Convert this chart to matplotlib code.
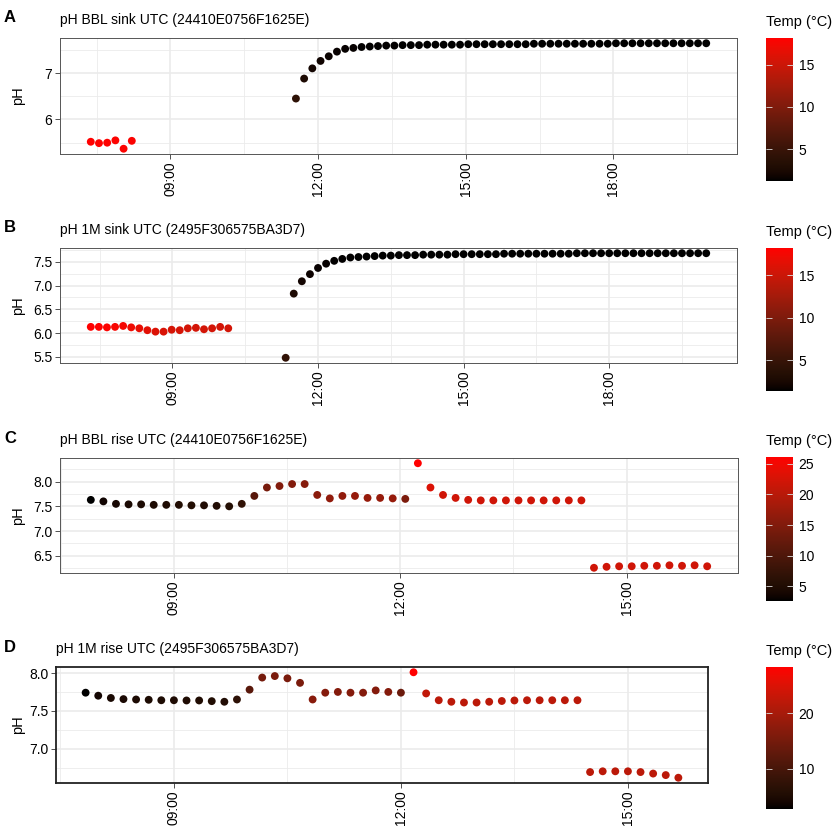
import numpy as np
import pandas as pd
import matplotlib
matplotlib.use("Agg")
import matplotlib.pyplot as plt
from matplotlib.colors import ListedColormap
from matplotlib.ticker import FixedLocator, FuncFormatter

plt.rcParams['font.family'] = ['Liberation Sans', 'DejaVu Sans']

#### data (10 minute logging interval)
# A: BBL sink
a1_start, a1_ph = "07:23", [5.52, 5.49, 5.50, 5.55, 5.37, 5.54]
a1_temp = [18.2, 18.1, 18.1, 18.0, 18.0, 17.9]
a2_start = "11:33"
a2_ph = [6.45, 6.88, 7.10, 7.26, 7.36, 7.46, 7.52, 7.54, 7.56, 7.57,
         7.58, 7.59, 7.59, 7.60, 7.60, 7.60, 7.61, 7.61, 7.61, 7.61,
         7.61, 7.62, 7.62, 7.62, 7.62, 7.62, 7.62, 7.62, 7.62, 7.63,
         7.63, 7.63, 7.63, 7.63, 7.63, 7.63, 7.63, 7.63, 7.63, 7.64,
         7.64, 7.64, 7.64, 7.64, 7.64, 7.64, 7.64, 7.64, 7.64, 7.64, 7.64]
a2_temp = [4.0, 2.6, 2.0, 1.8, 1.6, 1.5, 1.4, 1.4, 1.3, 1.3,
           1.3, 1.3, 1.3, 1.2, 1.2, 1.2, 1.2, 1.2, 1.2, 1.2,
           1.2, 1.2, 1.2, 1.2, 1.2, 1.2, 1.2, 1.2, 1.2, 1.2,
           1.2, 1.2, 1.2, 1.2, 1.2, 1.2, 1.2, 1.2, 1.2, 1.2,
           1.2, 1.2, 1.2, 1.2, 1.2, 1.2, 1.2, 1.2, 1.2, 1.2, 1.2]

# B: 1M sink
b1_start = "07:19"
b1_ph = [6.13, 6.13, 6.12, 6.13, 6.15, 6.12, 6.10, 6.06, 6.03, 6.03,
         6.07, 6.06, 6.10, 6.11, 6.08, 6.10, 6.13, 6.10]
b1_temp = [18.2, 18.1, 18.0, 17.8, 17.6, 17.2, 16.8, 16.4, 16.0, 15.8,
           15.6, 15.6, 15.5, 15.5, 15.5, 15.5, 15.5, 15.5]
b2_start = "11:20"
b2_ph = [5.48, 6.83, 7.09, 7.24, 7.37, 7.46, 7.52, 7.56, 7.59, 7.60,
         7.61, 7.62, 7.63, 7.63, 7.64, 7.64, 7.64, 7.65, 7.65, 7.65,
         7.65, 7.66, 7.66, 7.66, 7.66, 7.66, 7.66, 7.67, 7.67, 7.67,
         7.67, 7.67, 7.67, 7.67, 7.67, 7.67, 7.68, 7.68, 7.68, 7.68,
         7.68, 7.68, 7.68, 7.68, 7.68, 7.68, 7.68, 7.68, 7.68, 7.68,
         7.68, 7.68, 7.68]
b2_temp = [4.5, 2.8, 2.2, 1.9, 1.7, 1.6, 1.5, 1.5, 1.5, 1.4,
           1.4, 1.4, 1.4, 1.4, 1.4, 1.4, 1.4, 1.4, 1.4, 1.4,
           1.4, 1.4, 1.4, 1.4, 1.4, 1.4, 1.4, 1.4, 1.4, 1.4,
           1.4, 1.4, 1.4, 1.4, 1.4, 1.4, 1.4, 1.4, 1.4, 1.4,
           1.4, 1.4, 1.4, 1.4, 1.4, 1.4, 1.4, 1.4, 1.4, 1.4,
           1.4, 1.4, 1.4]

# C: BBL rise
c_start = "07:54"
c_ph = [7.63, 7.60, 7.55, 7.54, 7.54, 7.53, 7.53, 7.53, 7.52, 7.52,
        7.51, 7.50, 7.55, 7.71, 7.88, 7.91, 7.95, 7.95, 7.73, 7.66,
        7.71, 7.71, 7.67, 7.67, 7.66, 7.65, 8.37, 7.88, 7.73, 7.67,
        7.63, 7.62, 7.62, 7.62, 7.62, 7.62, 7.62, 7.62, 7.62, 7.62,
        6.26, 6.28, 6.29, 6.29, 6.30, 6.30, 6.31, 6.30, 6.31, 6.29]
c_temp = [2.6, 3.5, 4.0, 4.3, 4.5, 4.6, 4.8, 5.0, 5.0, 5.1,
          5.2, 5.5, 7.0, 11.0, 14.0, 15.0, 15.0, 15.5, 16.0, 16.5,
          16.5, 17.0, 17.0, 17.0, 17.0, 14.5, 26.1, 23.0, 22.0, 22.0,
          22.0, 22.0, 22.0, 22.0, 22.0, 22.0, 22.0, 22.0, 22.0, 22.0,
          22.0, 22.0, 22.0, 22.0, 22.0, 22.0, 22.0, 22.0, 22.0, 22.0]

# D: 1M rise
d_start = "07:50"
d_ph = [7.74, 7.70, 7.67, 7.655, 7.65, 7.646, 7.64, 7.64, 7.637, 7.637,
        7.628, 7.62, 7.65, 7.78, 7.94, 7.96, 7.93, 7.87, 7.65, 7.74,
        7.75, 7.74, 7.74, 7.77, 7.75, 7.74, 8.01, 7.73, 7.64, 7.62,
        7.61, 7.61, 7.62, 7.63, 7.637, 7.64, 7.64, 7.64, 7.64, 7.64,
        6.69, 6.70, 6.70, 6.70, 6.69, 6.67, 6.65, 6.615]
d_temp = [2.7, 4.0, 4.5, 4.7, 4.8, 5.0, 5.0, 5.1, 5.2, 5.3,
          5.4, 5.5, 7.0, 12.0, 15.0, 15.5, 15.5, 15.5, 17.0, 16.5,
          16.5, 16.5, 16.5, 16.5, 16.5, 14.0, 28.4, 22.5, 22.0, 22.0,
          22.0, 22.0, 22.0, 22.0, 22.0, 22.0, 22.0, 22.0, 22.0, 22.0,
          22.0, 22.0, 22.0, 22.0, 22.0, 22.0, 22.0, 22.0]

titles = ["pH BBL sink UTC (24410E0756F1625E)", "pH 1M sink UTC (2495F306575BA3D7)",
          "pH BBL rise UTC (24410E0756F1625E)", "pH 1M rise UTC (2495F306575BA3D7)"]
letters = ["A", "B", "C", "D"]


def hours(start, n):
    t = pd.date_range("2019-01-01 " + start, periods=n, freq="10min")
    return list(t.hour + t.minute / 60.0)


# black -> red gradient interpolated in CIELAB like ggplot
def lab_gradient(n=256):
    t = np.linspace(0, 1, n)
    L, A, B = 53.24 * t, 80.09 * t, 67.20 * t
    fy = (L + 16) / 116
    fx = fy + A / 500
    fz = fy - B / 200
    finv = lambda f: np.where(f > 6 / 29, f ** 3, 3 * (6 / 29) ** 2 * (f - 4 / 29))
    X, Y, Z = 0.95047 * finv(fx), finv(fy), 1.08883 * finv(fz)
    r = 3.2406 * X - 1.5372 * Y - 0.4986 * Z
    g = -0.9689 * X + 1.8758 * Y + 0.0415 * Z
    b = 0.0557 * X - 0.2040 * Y + 1.0570 * Z
    rgb = np.clip(np.stack([r, g, b], 1), 0, 1)
    rgb = np.where(rgb <= 0.0031308, 12.92 * rgb, 1.055 * rgb ** (1 / 2.4) - 0.055)
    return ListedColormap(np.clip(rgb, 0, 1))


cmap = lab_gradient()

panels = [
    (hours(a1_start, len(a1_ph)) + hours(a2_start, len(a2_ph)), a1_ph + a2_ph, a1_temp + a2_temp),
    (hours(b1_start, len(b1_ph)) + hours(b2_start, len(b2_ph)), b1_ph + b2_ph, b1_temp + b2_temp),
    (hours(c_start, len(c_ph)), c_ph, c_temp),
    (hours(d_start, len(d_ph)), d_ph, d_temp),
]

W = 838.0
fig = plt.figure(figsize=(8.38, 8.38), dpi=100)

# pixel boxes: left, top, right, bottom
ax_box = [(60, 38, 737, 154), (60, 248, 737, 363), (60, 458, 738, 573), (56, 667, 708, 783)]
cb_box = [(766, 38, 793, 181), (766, 248, 793, 391), (766, 457, 793, 601), (766, 667, 793, 809)]
yticks = [[6, 7], [5.5, 6.0, 6.5, 7.0, 7.5], [6.5, 7.0, 7.5, 8.0], [7.0, 7.5, 8.0]]
yfmt = ["{:.0f}", "{:.1f}", "{:.1f}", "{:.1f}"]
xmajor = [[9, 12, 15, 18], [9, 12, 15, 18], [9, 12, 15], [9, 12, 15]]
xminor = [[7.5, 10.5, 13.5, 16.5, 19.5], [7.5, 10.5, 13.5, 16.5, 19.5], [7.5, 10.5, 13.5, 16.5], [7.5, 10.5, 13.5, 16.5]]
cbticks = [[5, 10, 15], [5, 10, 15], [5, 10, 15, 20, 25], [10, 20]]

for i, (x, y, temp) in enumerate(panels):
    l, t, r, b = ax_box[i]
    ax = fig.add_axes([l / W, 1 - b / W, (r - l) / W, (b - t) / W])
    sc = ax.scatter(x, y, c=temp, cmap=cmap, vmin=min(temp), vmax=max(temp),
                    s=32, linewidths=0, zorder=3)
    ax.margins(x=0.05, y=0.05)

    ax.xaxis.set_major_locator(FixedLocator(xmajor[i]))
    ax.xaxis.set_minor_locator(FixedLocator(xminor[i]))
    ax.xaxis.set_major_formatter(FuncFormatter(lambda v, p: "%02d:00" % int(round(v))))
    ytk = yticks[i]
    ax.yaxis.set_major_locator(FixedLocator(ytk))
    ax.yaxis.set_minor_locator(FixedLocator([v + (ytk[1] - ytk[0]) / 2 for v in [ytk[0] - (ytk[1] - ytk[0])] + ytk]))
    fmt = yfmt[i]
    ax.yaxis.set_major_formatter(FuncFormatter(lambda v, p, fmt=fmt: fmt.format(v)))

    ax.grid(True, which="major", color="#EBEBEB", lw=1.2, zorder=0)
    ax.grid(True, which="minor", color="#EBEBEB", lw=0.6, zorder=0)
    ax.set_axisbelow(True)
    ax.tick_params(which="major", length=3.5, width=0.6, color="#333333", labelsize=10,
                   labelcolor="black", pad=2)
    ax.tick_params(which="minor", length=0)
    plt.setp(ax.get_xticklabels(), rotation=90)

    for sp in ax.spines.values():
        if i == 3:
            sp.set_color("#222222")
            sp.set_linewidth(1.3)
        else:
            sp.set_color("#555555")
            sp.set_linewidth(0.7)

    ax.set_ylabel("pH", fontsize=10.5)
    ax.yaxis.set_label_coords(25 / W, 1 - (t + b) / 2 / W, transform=fig.transFigure)

    fig.text(l / W, 1 - (t - 18) / W, titles[i], fontsize=10, va="center", ha="left")
    fig.text(4 / W, 1 - (t - 20) / W, letters[i], fontsize=12, fontweight="bold",
             va="center", ha="left")

    # colour bar
    cl, ct, cr, cbm = cb_box[i]
    cax = fig.add_axes([cl / W, 1 - cbm / W, (cr - cl) / W, (cbm - ct) / W])
    cb = fig.colorbar(sc, cax=cax, ticks=cbticks[i])
    cb.outline.set_visible(False)
    cax.tick_params(left=True, right=True, direction="in", length=4.5, width=0.6,
                    color="#DDDDDD", labelsize=10, pad=4)
    fig.text(cl / W, 1 - (ct - 16) / W, "Temp (°C)", fontsize=10.5, va="center", ha="left")

fig.savefig("out.png", dpi=100)
